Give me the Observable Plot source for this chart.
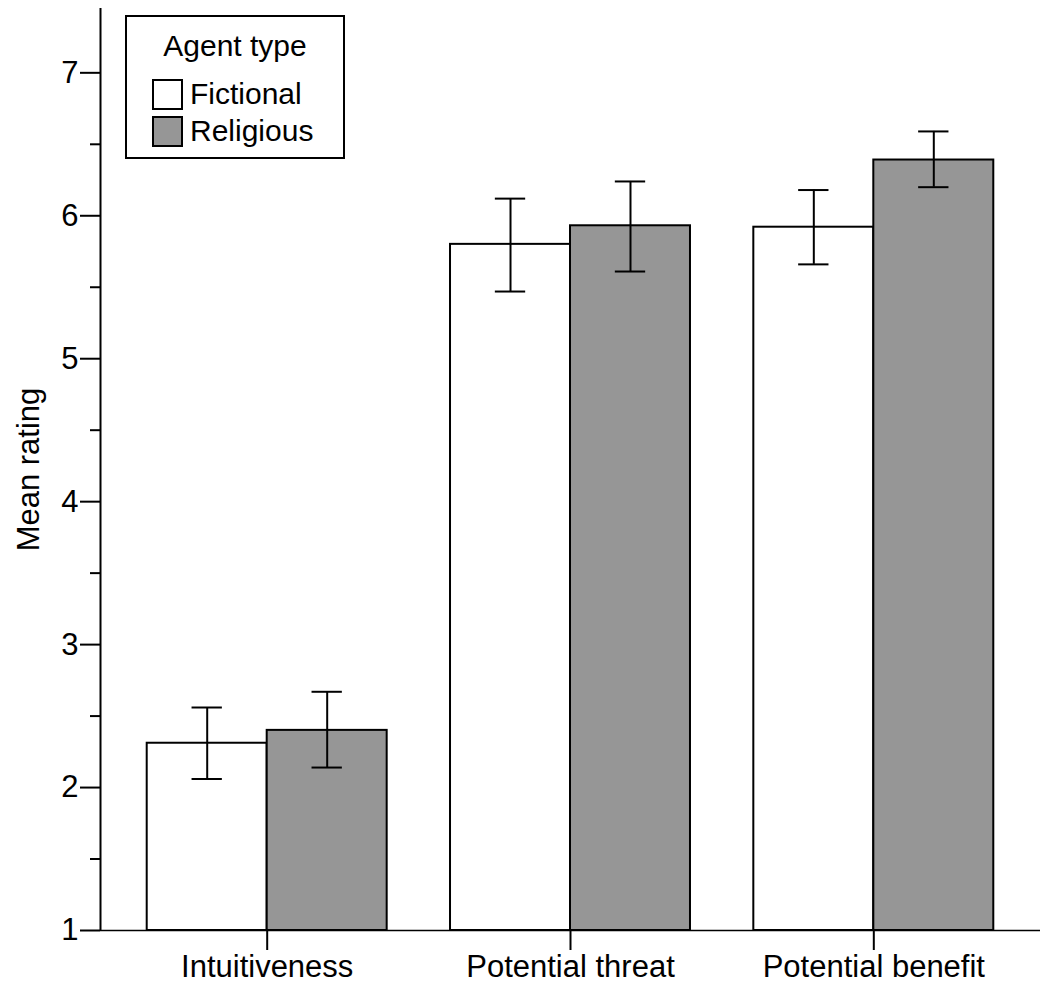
<!DOCTYPE html>
<html>
<head>
<meta charset="utf-8">
<script src="https://cdn.jsdelivr.net/npm/d3@7"></script>
<script src="https://cdn.jsdelivr.net/npm/@observablehq/plot@0.6"></script>
<style>
  html, body { margin: 0; padding: 0; background: #fff; }
  #wrap { position: relative; width: 1046px; height: 985px; font-family: "Liberation Sans", Arial, sans-serif; color: #000; }
  #legend { position: absolute; left: 125px; top: 15px; width: 216px; height: 140px; border: 2px solid #000; background: #fff; box-sizing: content-box; }
  #legend .title { position: absolute; left: 0; width: 100%; top: 12px; text-align: center; font-size: 30px; line-height: 34px; }
  #legend .item { position: absolute; left: 25px; font-size: 30px; line-height: 34px; display: flex; align-items: center; }
  #legend .sw { width: 27px; height: 27px; border: 2px solid #000; margin-right: 7px; }
</style>
</head>
<body>
<div id="wrap"></div>
<script>
const categories = ["Intuitiveness", "Potential threat", "Potential benefit"];
const agentTypes = ["Fictional", "Religious"];
const fictionalMean = [2.31, 5.80, 5.92];
const fictionalLow  = [2.06, 5.47, 5.66];
const fictionalHigh = [2.56, 6.12, 6.18];
const religiousMean = [2.40, 5.93, 6.39];
const religiousLow  = [2.14, 5.61, 6.20];
const religiousHigh = [2.67, 6.24, 6.59];
const yTicks = [1, 2, 3, 4, 5, 6, 7];
const yMinorTicks = [1.5, 2.5, 3.5, 4.5, 5.5, 6.5];
const colors = ["#ffffff", "#969696"];

const barW = 0.3956;   // half of the group width, in category units
const capW = 0.05;
const xDomain = [-0.5496, 2.5496];

const rows = [];
categories.forEach((c, i) => {
  rows.push({cat: c, i, type: "Fictional", mean: fictionalMean[i], lo: fictionalLow[i], hi: fictionalHigh[i]});
  rows.push({cat: c, i, type: "Religious", mean: religiousMean[i], lo: religiousLow[i], hi: religiousHigh[i]});
});
const left = d => d.type === "Fictional" ? d.i - barW : d.i;
const right = d => d.type === "Fictional" ? d.i : d.i + barW;
const mid = d => (left(d) + right(d)) / 2;

const chart = Plot.plot({
  width: 1046,
  height: 985,
  marginLeft: 100,
  marginRight: 6,
  marginTop: 8,
  marginBottom: 55,
  style: {fontFamily: '"Liberation Sans", Arial, sans-serif', color: "#000", background: "#fff"},
  x: {domain: xDomain, axis: null},
  y: {domain: [1, 7.45], axis: null},
  color: {domain: agentTypes, range: colors},
  marks: [
    Plot.rect(rows, {x1: left, x2: right, y1: 1, y2: "mean", fill: "type", stroke: "#000", strokeWidth: 2}),
    Plot.ruleX(rows, {x: mid, y1: "lo", y2: "hi", stroke: "#000", strokeWidth: 2}),
    Plot.ruleY(rows, {y: "hi", x1: d => mid(d) - capW, x2: d => mid(d) + capW, stroke: "#000", strokeWidth: 2}),
    Plot.ruleY(rows, {y: "lo", x1: d => mid(d) - capW, x2: d => mid(d) + capW, stroke: "#000", strokeWidth: 2}),
    Plot.ruleY([1], {stroke: "#000", strokeWidth: 1.5}),
    Plot.ruleX([xDomain[0]], {stroke: "#000", strokeWidth: 2}),
    Plot.axisY({ticks: yTicks, tickSize: 20, tickPadding: 2, fontSize: 31, strokeWidth: 2, label: null, tickFormat: d3.format("d")}),
    Plot.axisY({ticks: yMinorTicks, tickSize: 10, strokeWidth: 2, label: null, tickFormat: () => ""}),
    Plot.axisX({ticks: [0, 1, 2], tickSize: 20, tickPadding: 4, fontSize: 31, strokeWidth: 2, label: null, tickFormat: i => categories[i]}),
    Plot.text(["Mean rating"], {text: d => d, frameAnchor: "left", textAnchor: "middle", rotate: -90, dx: -71, fontSize: 31})
  ]
});

const wrap = document.getElementById("wrap");
wrap.appendChild(chart);

const legend = document.createElement("div");
legend.id = "legend";
legend.innerHTML = `<div class="title">Agent type</div>` +
  agentTypes.map((t, k) => `<div class="item" style="top:${60 + k * 37}px"><div class="sw" style="background:${colors[k]}"></div>${t}</div>`).join("");
wrap.appendChild(legend);
</script>
</body>
</html>
